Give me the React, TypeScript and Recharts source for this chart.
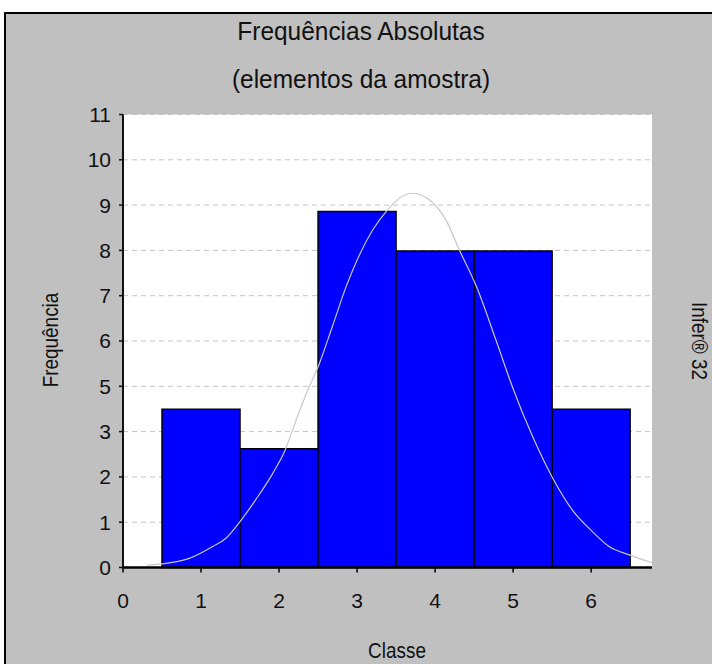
import { ComposedChart, Bar, Line, XAxis, YAxis, CartesianGrid } from 'recharts'

// histogram classes and absolute frequencies
const CLASSES = [1, 2, 3, 4, 5, 6]
const FREQUENCIES = [4, 3, 9, 8, 8, 4]

// fitted normal curve, sampled along the class axis
const CURVE_X = [0.31, 0.5, 0.85, 1.15, 1.32, 1.5, 1.7, 1.92, 2.07, 2.22, 2.35, 2.51, 2.69, 2.86, 3.03, 3.2, 3.37, 3.54, 3.71, 3.93, 4.14, 4.31, 4.53, 4.78, 4.99, 5.25, 5.51, 5.76, 6.02, 6.23, 6.49, 6.78]
const CURVE_Y = [0.06, 0.09, 0.23, 0.53, 0.74, 1.16, 1.71, 2.38, 2.93, 3.73, 4.4, 5.12, 6.13, 7.1, 7.9, 8.53, 8.99, 9.33, 9.46, 9.29, 8.78, 8.03, 7.1, 5.75, 4.57, 3.31, 2.25, 1.45, 0.9, 0.53, 0.32, 0.12]

const X_TICKS = [0, 1, 2, 3, 4, 5, 6]
const X_MAX = 6.78
const Y_MAX = 11.45
// the axis is split in 10 equal steps and each label is the rounded value
const Y_TICK_LABELS = ['0', '1', '2', '3', '5', '6', '7', '8', '9', '10', '11']

const W = 712
const H = 664
const MARGIN = { top: 114.5, right: 60, bottom: 56.5, left: 63 }
const Y_AXIS_W = 60

const FONT = '"Liberation Sans", Arial, sans-serif'
const INK = '#111'

const bars = CLASSES.map((x, i) => ({ x, freq: FREQUENCIES[i] }))
const curve = CURVE_X.map((x, i) => ({ x, curve: CURVE_Y[i] }))
const yTicks = Y_TICK_LABELS.map((_, i) => (Y_MAX * i) / (Y_TICK_LABELS.length - 1))

const tickStyle = { fontSize: 21, fill: INK, fontFamily: FONT }

// the chart's lettering is a little condensed, so captions are squeezed horizontally
function Caption({ x, y, rotate = 0, size = 22, squeeze = 0.86, children }: { x: number; y: number; rotate?: number; size?: number; squeeze?: number; children: React.ReactNode }) {
  return (
    <div
      style={{
        position: 'absolute',
        left: x,
        top: y,
        transform: `translate(-50%, -50%) rotate(${rotate}deg) scaleX(${squeeze})`,
        fontFamily: FONT,
        fontSize: size,
        color: INK,
        whiteSpace: 'nowrap',
        lineHeight: 1,
      }}
    >
      {children}
    </div>
  )
}

export default function App() {
  return (
    <div style={{ position: 'absolute', left: 0, top: 0, width: W, height: H, overflow: 'hidden', background: '#fff' }}>
      <div
        style={{
          position: 'absolute',
          left: 4,
          top: 12,
          width: W + 20,
          height: H + 20,
          border: '2px solid #000',
          background: '#c0c0c0',
        }}
      />
      <div style={{ position: 'absolute', left: 0, top: 0 }}>
        <ComposedChart width={W} height={H} data={bars} margin={MARGIN} barCategoryGap={0} barGap={0}>
          <CartesianGrid horizontal vertical={false} stroke="#c4c4c4" strokeDasharray="5 4" fill="#fff" />
          <XAxis
            dataKey="x"
            type="number"
            domain={[0, X_MAX]}
            ticks={X_TICKS}
            interval={0}
            height={40}
            tick={tickStyle}
            tickSize={5}
            tickMargin={21}
            axisLine={{ stroke: '#000', strokeWidth: 2.5 }}
            tickLine={{ stroke: '#000', strokeWidth: 1.5 }}
          />
          {/* the curve gets its own hidden axis so its sample spacing does not shrink the bars */}
          <XAxis xAxisId="curve" dataKey="x" type="number" domain={[0, X_MAX]} hide />
          <YAxis
            type="number"
            domain={[0, Y_MAX]}
            ticks={yTicks}
            interval={0}
            width={Y_AXIS_W}
            tick={tickStyle}
            tickFormatter={(_v: number, i: number) => Y_TICK_LABELS[i]}
            tickSize={4}
            tickMargin={8}
            axisLine={{ stroke: '#111', strokeWidth: 2 }}
            tickLine={{ stroke: '#111', strokeWidth: 1.5 }}
          />
          {/* top and right edges of the plot frame */}
          <XAxis xAxisId="top" orientation="top" type="number" domain={[0, X_MAX]} height={0} tick={false} tickLine={false} axisLine={{ stroke: '#333', strokeWidth: 2 }} />
          <YAxis yAxisId="right" orientation="right" type="number" domain={[0, Y_MAX]} width={0} tick={false} tickLine={false} axisLine={{ stroke: '#333', strokeWidth: 2 }} />
          <Bar dataKey="freq" fill="#0000ff" stroke="#000" strokeWidth={1.5} isAnimationActive={false} />
          <Line xAxisId="curve" data={curve} dataKey="curve" type="monotone" stroke="#c8c8c8" strokeWidth={1.2} dot={false} activeDot={false} isAnimationActive={false} />
        </ComposedChart>
      </div>
      <Caption x={361} y={31} size={26} squeeze={0.94}>Frequências Absolutas</Caption>
      <Caption x={361} y={79} size={26} squeeze={0.94}>(elementos da amostra)</Caption>
      <Caption x={51} y={340} rotate={-90}>Frequência</Caption>
      <Caption x={699} y={341} rotate={90}>Infer® 32</Caption>
      <Caption x={397} y={651}>Classe</Caption>
    </div>
  )
}
